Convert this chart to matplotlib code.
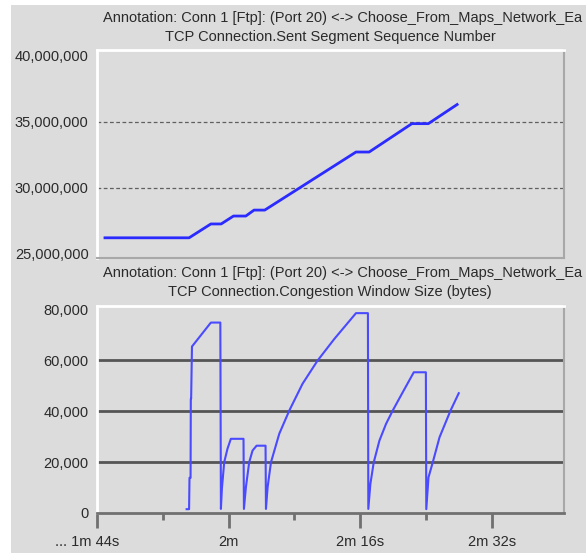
import matplotlib
matplotlib.use("Agg")
import matplotlib.pyplot as plt
import matplotlib.patches as patches
import matplotlib.transforms as mtransforms

plt.rcParams['font.family'] = ['Liberation Sans', 'DejaVu Sans']

# --- data (time in seconds) ---
seq_t = [104.97, 115.2, 117.85, 119.1, 120.6, 122.1, 123.1, 124.4, 135.5, 137.1, 142.3, 144.3, 147.8]
seq_val = [26.2e6, 26.2e6, 27.25e6, 27.25e6, 27.85e6, 27.85e6, 28.3e6, 28.3e6,
           32.7e6, 32.7e6, 34.85e6, 34.85e6, 36.3e6]

cwnd_t = [114.9, 115.2, 115.25, 115.38, 115.41, 115.45, 115.55, 117.85, 119.0, 119.07,
          119.19, 119.47, 119.87, 120.28, 121.82, 121.87, 122.11, 122.51, 122.92, 123.41,
          124.5, 124.55, 124.75, 125.16, 126.17, 127.39, 129.0, 130.83, 132.87, 135.5,
          136.95, 137.0, 137.25, 137.66, 138.35, 139.16, 139.97, 141.19, 142.53, 144.0,
          144.05, 144.32, 144.84, 145.66, 147.0, 148.0]
cwnd_val = [1500, 1500, 13800, 13800, 44800, 44800, 65300, 74700, 74700, 1600,
            9500, 19900, 25200, 29100, 29100, 1600, 10100, 19900, 24500, 26400,
            26400, 1600, 10100, 19900, 31100, 40200, 50700, 59800, 68300, 78400,
            78400, 1600, 11400, 19900, 28400, 35000, 40200, 47400, 55200, 55200,
            1500, 14000, 19900, 29700, 40200, 47000]

seq_ticks = [25e6, 30e6, 35e6, 40e6]
seq_labels = ['25,000,000', '30,000,000', '35,000,000', '40,000,000']
cwnd_ticks = [0, 20000, 40000, 60000, 80000]
cwnd_labels = ['0', '20,000', '40,000', '60,000', '80,000']
time_ticks = [104, 120, 136, 152]
time_minor = [112, 128, 144]
time_labels = ['... 1m 44s', '2m', '2m 16s', '2m 32s']

title1 = 'Annotation: Conn 1 [Ftp]: (Port 20) <-> Choose_From_Maps_Network_Ea'
sub_top = 'TCP Connection.Sent Segment Sequence Number'
sub_bot = 'TCP Connection.Congestion Window Size (bytes)'

W, H = 586, 553
bg = '#dcdcdc'
txt = '#2a2a2a'

fig = plt.figure(figsize=(W / 100, H / 100), dpi=100, facecolor='white')
fig.patches.append(patches.Rectangle((11 / W, 0), 1, (H - 5) / H, transform=fig.transFigure,
                                     facecolor=bg, edgecolor='none', zorder=-10))


def px_axes(left, top, right, bottom):
    return fig.add_axes([left / W, (H - bottom) / H, (right - left) / W, (bottom - top) / H])


def style_frame(ax):
    ax.set_facecolor(bg)
    ax.spines['top'].set_color('white')
    ax.spines['left'].set_color('white')
    ax.spines['top'].set_linewidth(2)
    ax.spines['left'].set_linewidth(2)
    ax.spines['right'].set_color('#a8a8a8')
    ax.spines['bottom'].set_color('#a8a8a8')
    ax.spines['right'].set_linewidth(1.5)
    ax.spines['bottom'].set_linewidth(1.5)
    ax.tick_params(axis='y', length=0, pad=6, labelsize=10.5, labelcolor=txt)
    ax.set_xlim(104, 160.8)


# top panel
ax1 = px_axes(97, 50, 564, 258)
style_frame(ax1)
ax1.plot(seq_t, seq_val, color='#2b2bff', lw=2)
ax1.set_ylim(24.67e6, 40.43e6)
ax1.set_yticks(seq_ticks, seq_labels)
for v in seq_ticks[1:3]:
    ax1.axhline(v, color='#606060', lw=0.9, ls=(0, (3, 2)), zorder=0)
ax1.set_xticks([])

# bottom panel
ax2 = px_axes(97, 306, 564, 513)
style_frame(ax2)
ax2.plot(cwnd_t, cwnd_val, color='#4a4aff', lw=1.5)
ax2.set_ylim(0, 81200)
ax2.set_yticks(cwnd_ticks, cwnd_labels)
for v in cwnd_ticks[1:4]:
    ax2.axhline(v, color='#555555', lw=2, zorder=0)
ax2.spines['bottom'].set_color('#707070')
ax2.spines['bottom'].set_linewidth(2)
ax2.set_xticks(time_ticks, time_labels)
ax2.set_xticks(time_minor, minor=True)
ax2.tick_params(axis='x', which='major', direction='out', length=11, width=2,
                color='#707070', pad=5, labelsize=10.5, labelcolor=txt)
ax2.tick_params(axis='x', which='minor', direction='out', length=5, width=2, color='#707070')
first = ax2.get_xticklabels()[0]
first.set_transform(first.get_transform() + mtransforms.ScaledTranslation(-0.1, 0, fig.dpi_scale_trans))

# titles
for y1, y2, sub in [(18, 37, sub_top), (273, 292, sub_bot)]:
    fig.text(103 / W, 1 - y1 / H, title1, ha='left', va='center', fontsize=10.5, color=txt)
    fig.text(330 / W, 1 - y2 / H, sub, ha='center', va='center', fontsize=10.5, color=txt)

fig.savefig('out.png', dpi=100, facecolor=fig.get_facecolor())
